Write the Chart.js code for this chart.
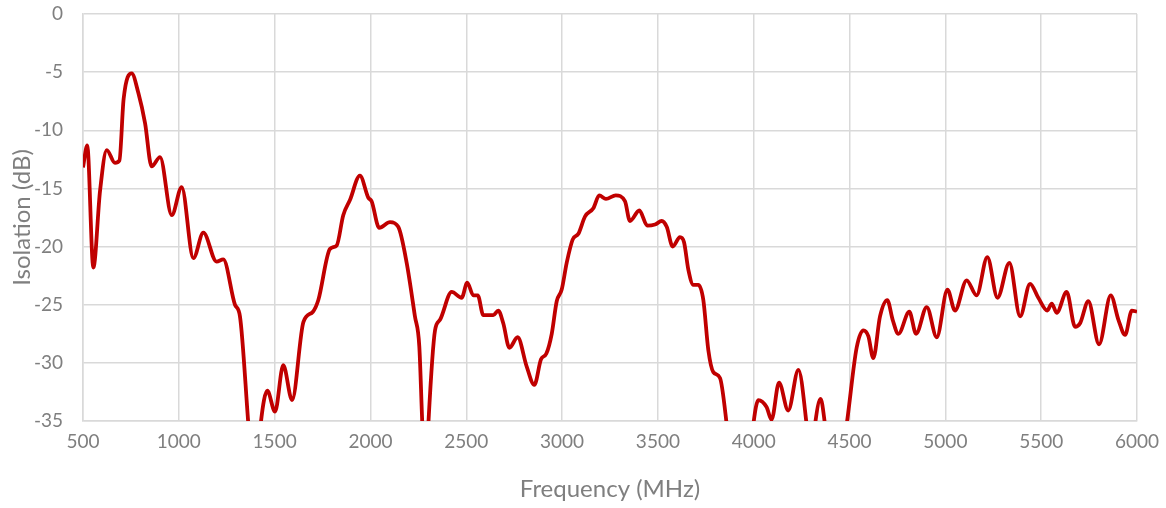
<!DOCTYPE html>
<html>
<head>
<meta charset="utf-8">
<script src="https://cdn.jsdelivr.net/npm/chart.js@4/dist/chart.umd.min.js"></script>
<style>
  html, body { margin: 0; padding: 0; background: #ffffff; }
  #wrap { width: 1166px; height: 508px; }
</style>
</head>
<body>
<div id="wrap"><canvas id="c" width="1166" height="508"></canvas></div>
<script>
const frequency = [500,522,554,589,624,667,690,712,754,789,824,858,902,963,1015,1076,1128,1197,1232,1293,1319,1363,1395,1427,1462,1502,1545,1591,1650,1700,1728,1789,1824,1858,1893,1945,1989,2006,2046,2102,2145,2189,2232,2255,2270,2287,2303,2337,2363,2424,2476,2505,2537,2560,2589,2641,2667,2693,2725,2768,2815,2855,2890,2918,2946,2972,2998,3024,3055,3085,3120,3163,3194,3229,3280,3328,3354,3403,3445,3485,3520,3546,3577,3615,3636,3659,3685,3711,3737,3763,3789,3824,3859,3900,3960,3998,4024,4067,4093,4132,4180,4233,4276,4298,4320,4349,4372,4420,4485,4537,4572,4598,4624,4659,4697,4725,4755,4812,4847,4903,4955,5011,5050,5111,5163,5219,5272,5334,5390,5442,5485,5532,5555,5581,5633,5677,5703,5746,5802,5863,5903,5938,5973,6000];
const isolation = [-13.2,-11.3,-21.8,-15.2,-11.7,-12.8,-12.6,-7.3,-5.1,-6.8,-9.4,-13.1,-12.3,-17.3,-14.9,-21.0,-18.8,-21.3,-21.1,-25.0,-26.0,-35.3,-42,-35.3,-32.4,-34.2,-30.2,-33.2,-26.5,-25.6,-24.6,-20.2,-19.9,-17.3,-16.0,-13.9,-15.8,-16.1,-18.4,-17.9,-18.3,-21.4,-26.0,-28.6,-35,-41,-35,-27.2,-26.3,-23.9,-24.4,-23.1,-24.2,-24.2,-25.9,-25.9,-25.5,-26.6,-28.7,-27.8,-30.3,-31.9,-29.7,-29.2,-27.5,-24.7,-23.7,-21.4,-19.4,-18.9,-17.4,-16.7,-15.6,-15.9,-15.6,-16.1,-17.8,-16.9,-18.2,-18.1,-17.8,-18.3,-20.0,-19.2,-19.6,-22.0,-23.3,-23.3,-24.6,-28.9,-30.8,-31.3,-35.3,-42,-42,-35.3,-33.2,-33.8,-34.9,-31.7,-34.1,-30.6,-35.3,-39,-35.3,-33.1,-35.3,-42,-35.3,-28.7,-27.2,-27.7,-29.6,-26.0,-24.6,-26.3,-27.5,-25.6,-27.5,-25.2,-27.8,-23.7,-25.5,-22.9,-24.2,-20.9,-24.4,-21.4,-26.0,-23.2,-24.4,-25.5,-24.9,-25.7,-23.9,-26.9,-26.6,-24.7,-28.4,-24.2,-26.3,-27.6,-25.5,-25.6];
const xTickValues = [500,1000,1500,2000,2500,3000,3500,4000,4500,5000,5500,6000];
const yTickValues = [0,-5,-10,-15,-20,-25,-30,-35];
const xTitle = 'Frequency (MHz)';
const yTitle = 'Isolation (dB)';

const points = frequency.map((f, i) => ({ x: f, y: isolation[i] }));
const textColor = '#7f7f7f';
const gridColor = '#d9d9d9';

new Chart(document.getElementById('c'), {
  type: 'line',
  data: {
    datasets: [{
      data: points,
      borderColor: '#c00000',
      backgroundColor: '#c00000',
      borderWidth: 3.8,
      pointRadius: 0,
      cubicInterpolationMode: 'monotone',
      fill: false
    }]
  },
  options: {
    responsive: false,
    animation: false,
    devicePixelRatio: 1,
    layout: { padding: { top: 14, right: 29, left: 0, bottom: 0 } },
    plugins: { legend: { display: false }, tooltip: { enabled: false } },
    scales: {
      x: {
        type: 'linear',
        min: 500, max: 6000,
        afterBuildTicks: s => { s.ticks = xTickValues.map(v => ({ value: v })); },
        afterFit: s => { s.height = 87; s.paddingLeft = 0; s.paddingRight = 0; },
        ticks: {
          color: textColor,
          font: { family: 'Lato', size: 19 },
          padding: 9,
          maxRotation: 0,
          callback: v => String(v)
        },
        grid: { color: gridColor, lineWidth: 1.5, drawTicks: false },
        border: { color: gridColor, width: 1.5 },
        title: {
          display: true, text: xTitle, color: textColor,
          font: { family: 'Lato', size: 24 }, padding: { top: 0, bottom: 4 }
        }
      },
      y: {
        type: 'linear',
        min: -35, max: 0,
        afterBuildTicks: s => { s.ticks = yTickValues.map(v => ({ value: v })); },
        afterFit: s => { s.width = 83; s.paddingTop = 0; s.paddingBottom = 0; },
        ticks: {
          color: textColor,
          font: { family: 'Lato', size: 19 },
          padding: 20,
          callback: v => String(v)
        },
        grid: { color: gridColor, lineWidth: 1.5, drawTicks: false },
        border: { color: gridColor, width: 1.5 },
        title: {
          display: true, text: yTitle, color: textColor,
          font: { family: 'Lato', size: 24 }, padding: { top: 8, bottom: 0 }
        }
      }
    }
  }
});
</script>
</body>
</html>
